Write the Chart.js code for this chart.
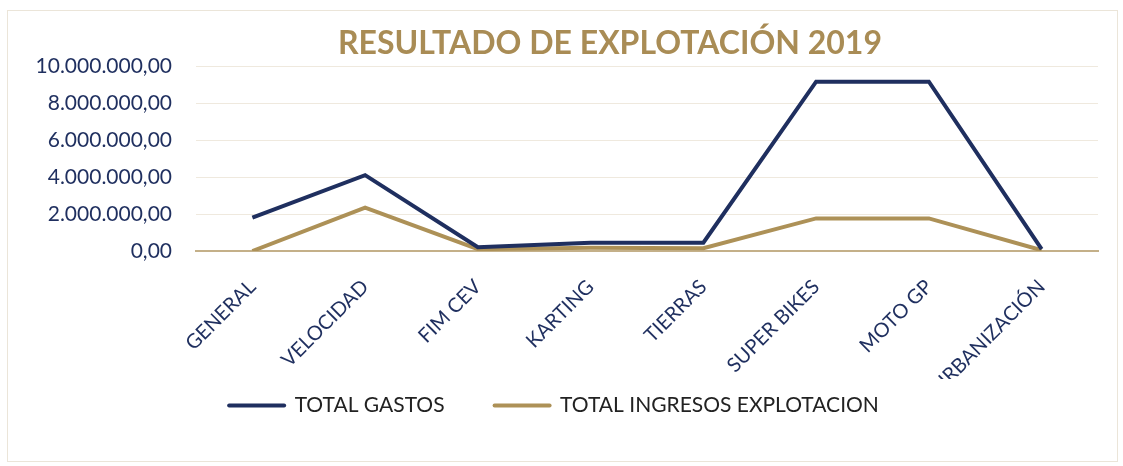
<!DOCTYPE html>
<html>
<head>
<meta charset="utf-8">
<script src="https://cdn.jsdelivr.net/npm/chart.js@4.4.1/dist/chart.umd.min.js"></script>
<style>
  html, body { margin: 0; padding: 0; background: #fff; }
  #wrap { position: absolute; left: 7px; top: 10px; width: 1111px; height: 452px; border: 1px solid #ebe5d9; box-sizing: border-box; }
  #box { position: absolute; left: 0; top: 0; width: 1123px; height: 466px; }
</style>
</head>
<body>
<div id="wrap"></div>
<div id="box"><canvas id="myChart" width="1123" height="466"></canvas></div>
<script>
'use strict';

// categorias y series
var categorias = ['GENERAL', 'VELOCIDAD', 'FIM CEV', 'KARTING', 'TIERRAS', 'SUPER BIKES', 'MOTO GP', 'URBANIZACIÓN'];
var totalGastos = [1800000, 4100000, 200000, 450000, 450000, 9150000, 9150000, 100000];
var totalIngresos = [0, 2350000, 100000, 180000, 150000, 1760000, 1760000, 40000];
var yTicks = [0, 2000000, 4000000, 6000000, 8000000, 10000000];
var titulo = 'RESULTADO DE EXPLOTACIÓN 2019';

var navy = '#1f2f5f';
var gold = '#ad9157';

function formatEs(v) {
	var s = Math.round(v).toString().replace(/\B(?=(\d{3})+(?!\d))/g, '.');
	return s + ',00';
}

// titulo dibujado a mano (en el original no esta centrado en el lienzo)
var tituloPlugin = {
	id: 'tituloPlugin',
	afterDraw: function (chart) {
		var c = chart.ctx;
		c.save();
		c.font = 'bold 32px Lato';
		c.fillStyle = '#a98c55';
		c.textAlign = 'center';
		c.textBaseline = 'alphabetic';
		c.fillText(titulo, 610, 54);
		c.restore();
	}
};

// las etiquetas del eje x se recortan un poco mas abajo del eje, como en el original
var recortePlugin = {
	id: 'recortePlugin',
	beforeDraw: function (chart) {
		var sx = chart.scales.x;
		sx._computeLabelArea = function () {
			return { top: this.top, left: 0, bottom: this.top + 128, right: this.chart.width };
		};
	}
};

var ctx = document.getElementById('myChart').getContext('2d');

var options = {
	type: 'line',
	data: {
		labels: categorias,
		datasets: [{
			label: 'TOTAL GASTOS',
			data: totalGastos,
			borderColor: navy,
			backgroundColor: navy,
			borderWidth: 4,
			pointRadius: 0,
			tension: 0,
			order: 1
		}, {
			label: 'TOTAL INGRESOS EXPLOTACION',
			data: totalIngresos,
			borderColor: gold,
			backgroundColor: gold,
			borderWidth: 4,
			pointRadius: 0,
			tension: 0,
			order: 2
		}]
	},
	plugins: [tituloPlugin, recortePlugin],
	options: {
		responsive: false,
		animation: false,
		layout: { padding: { left: 10, right: 25, top: 66, bottom: 40 } },
		plugins: {
			title: { display: false },
			legend: {
				position: 'bottom',
				labels: {
					usePointStyle: true,
					pointStyleWidth: 55,
					color: '#222',
					font: { family: 'Lato', size: 21 },
					padding: 50,
					generateLabels: function (chart) {
						var items = Chart.defaults.plugins.legend.labels.generateLabels(chart);
						items.forEach(function (it) { it.pointStyle = 'line'; it.lineWidth = 4; it.lineCap = 'round'; });
						return items;
					}
				}
			},
			tooltip: { enabled: false }
		},
		scales: {
			x: {
				offset: true,
				grid: { display: false, drawTicks: false, offset: true },
				border: { display: true, color: '#c4b089', width: 2 },
				ticks: {
					color: '#1f2f5f',
					font: { family: 'Lato', size: 20 },
					maxRotation: 45,
					minRotation: 45,
					padding: 24
				},
				afterFit: function (scale) { scale.height = 94; }
			},
			y: {
				min: 0,
				max: 10000000,
				afterBuildTicks: function (scale) {
					scale.ticks = yTicks.map(function (v) { return { value: v }; });
				},
				grid: { color: '#efe9de', lineWidth: 1, drawTicks: false },
				border: { display: false },
				ticks: {
					color: '#1f2f5f',
					font: { family: 'Lato', size: 21 },
					padding: 24,
					callback: function (v) { return formatEs(v); }
				},
				afterFit: function (scale) { scale.width = 186; }
			}
		}
	}
};

var myChart = new Chart(ctx, options);
</script>
</body>
</html>
